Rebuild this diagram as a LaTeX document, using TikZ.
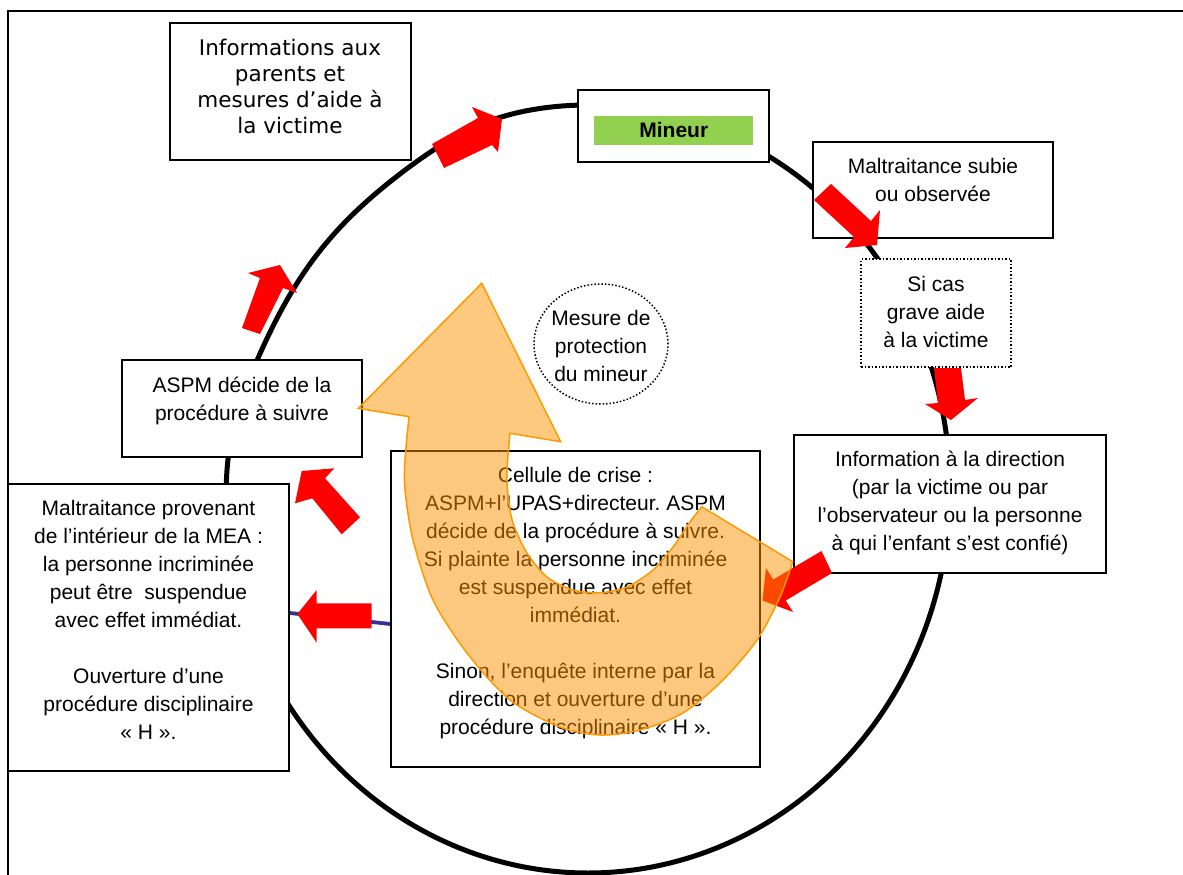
\documentclass[tikz,border=0pt]{standalone}
\usepackage{fontspec}
\setmainfont{Liberation Sans}
\newfontfamily\verdfont{DejaVu Sans}
\usetikzlibrary{calc,shapes.geometric}
\definecolor{redA}{HTML}{FF0000}
\definecolor{greenM}{HTML}{92D050}
\definecolor{navyL}{HTML}{333399}
\definecolor{orangeF}{HTML}{FB9300}
\definecolor{orangeD}{HTML}{FF9900}
\newcommand\firstl{\rule{0pt}{17pt}}
\frenchspacing
\begin{document}
\begin{tikzpicture}[x=1pt,y=-1pt,
  box/.style={draw=black, line width=1.6pt, fill=white, inner sep=0pt, rectangle},
  dotbox/.style={draw=black, line width=1.5pt, dash pattern=on 1.5pt off 2pt, fill=white, inner sep=0pt},
  txt/.style={inner sep=0pt, align=center, font=\fontsize{21}{28}\selectfont, anchor=north},
  vtxt/.style={inner sep=0pt, align=center, font=\verdfont\fontsize{21.5}{26}\selectfont, anchor=north},
  frame/.style={draw=black, line width=1.5pt},
  ring/.style={draw=black, line width=5pt},
  redarrow/.style={fill=redA},
  navyline/.style={draw=navyL, line width=3.8pt},
  orangearrow/.style={fill=orangeF, fill opacity=0.5, draw=orangeD, line width=1.5pt, line join=miter}
]
\useasboundingbox (0,0) rectangle (1183,875);
% frame
\draw[frame] (1183,11) -- (8,11) -- (8,875);
% big cycle
\draw[ring] plot[domain=0:359, samples=360, variable=\t]
  ({588+362*(1-0.034*exp(-min((abs(\t-140)/28)^4,20)))*cos(\t)},
   {489-384*(1-0.034*exp(-min((abs(\t-140)/28)^4,20)))*sin(\t)}) -- cycle;
% boxes
\node[box, minimum width=241pt, minimum height=137pt] (info) at (290.5,91.5) {};
\node[box, minimum width=191pt, minimum height=72pt] (mineur) at (673.5,126) {};
\node[fill=greenM, inner sep=0pt, minimum width=159pt, minimum height=29pt] (mineurtag) at (673.5,130.5) {};
\node[box, minimum width=240pt, minimum height=96pt] (malsub) at (933,190) {};
\node[dotbox, rectangle, minimum width=150pt, minimum height=108pt] (sicas) at (936,313) {};
\node[box, minimum width=312pt, minimum height=138pt] (infodir) at (950,504) {};
\node[dotbox, ellipse, minimum width=134pt, minimum height=120pt] (mesure) at (601,344) {};
\node[box, minimum width=240pt, minimum height=97pt] (aspm) at (242,408.5) {};
\node[box, minimum width=281pt, minimum height=287pt] (malprov) at (148.5,627.5) {};
\node[box, minimum width=369pt, minimum height=316pt] (cellule) at (575.5,609) {};
% connector
\draw[navyline] ($(malprov.east)+(0,-14.5)$) -- ($(cellule.west)+(0,15)$);
% texts
\node[vtxt] (infot) at (290,38) {\firstl Informations aux\\parents et\\mesures d’aide à\\la victime};
\node[anchor=base, inner sep=0pt, font=\bfseries\fontsize{21}{25}\selectfont] (mineurt) at (673.8,137) {Mineur};
\node[txt] (malsubt) at (933,156) {\firstl Maltraitance subie\\ou observée};
\node[txt] (sicast) at (936,274) {\firstl Si cas\\grave aide\\à la victime};
\node[txt] (infodirt) at (950,449) {\firstl Information à la direction\\(par la victime ou par\\l’observateur ou la personne\\à qui l’enfant s’est confié)};
\node[txt] (mesuret) at (601,308) {\firstl Mesure de\\protection\\du mineur};
\node[txt] (aspmt) at (242,375) {\firstl ASPM décide de la\\procédure à suivre};
\node[txt] (malprovt) at (148.5,498) {\firstl Maltraitance provenant\\de l’intérieur de la MEA :\\la personne incriminée\\peut être\ \ suspendue\\avec effet immédiat.\\[28pt]Ouverture d’une\\procédure disciplinaire\\« H ».};
\node[txt] (cellulet) at (575.5,465) {\firstl Cellule de crise :\\ASPM+l’UPAS+directeur. ASPM\\décide de la procédure à suivre.\\Si plainte la personne incriminée\\est suspendue avec effet\\immédiat.\\[28pt]Sinon, l’enquête interne par la\\direction et ouverture d’une\\procédure disciplinaire « H ».};
% red block arrows
\fill[redarrow] (432,144) -- (478,118) -- (472,107) -- (502,119) -- (498,152) -- (492,145) -- (444,168) -- cycle;
\fill[redarrow] (242,328) -- (260,278) -- (248,273) -- (280,265) -- (297,293) -- (283,288) -- (260,334) -- cycle;
\fill[redarrow] (814,200) -- (831,184) -- (871,221) -- (880,210) -- (877,245) -- (845,248) -- (854,237) -- cycle;
\fill[redarrow] (934,368) -- (961,368) -- (965,400) -- (978,398) -- (951,420) -- (925,404) -- (938,403) -- cycle;
\fill[redarrow] (821.5,551) -- (773.3,579.5) -- (766,568) -- (762.5,600.5) -- (793,612) -- (785.7,600.5) -- (832,573) -- cycle;
\fill[redarrow] (341.7,534.3) -- (312.3,498.3) -- (295,503.3) -- (301.7,471) -- (334.3,468.3) -- (325,478.3) -- (360,517.3) -- cycle;
\fill[redarrow] (371.7,603.3) -- (316.7,603.3) -- (316.7,590) -- (297.3,614) -- (316.7,642.7) -- (316.7,628.3) -- (371.7,628.3) -- cycle;
% orange curved arrow
\filldraw[orangearrow] (481.7,283.3) -- (560.7,441.7) -- (510,433.3)
  -- plot[smooth] coordinates {(510,433.3) (507,470) (508,495) (513,523) (527,553) (547,577) (573,590) (600,592.7) (627,587) (653,570) (673,547) (690,522) (701.7,506.7)}
  -- (792.7,561.7)
  -- plot[smooth] coordinates {(792.7,561.7) (780,597) (757,640) (723,680) (683,713) (640,730) (600,735) (560,727) (510,700) (467,653) (433,600) (413,540) (405,490) (405,460) (409,416.7)}
  -- (358.3,408.3) -- cycle;
\end{tikzpicture}
\end{document}
